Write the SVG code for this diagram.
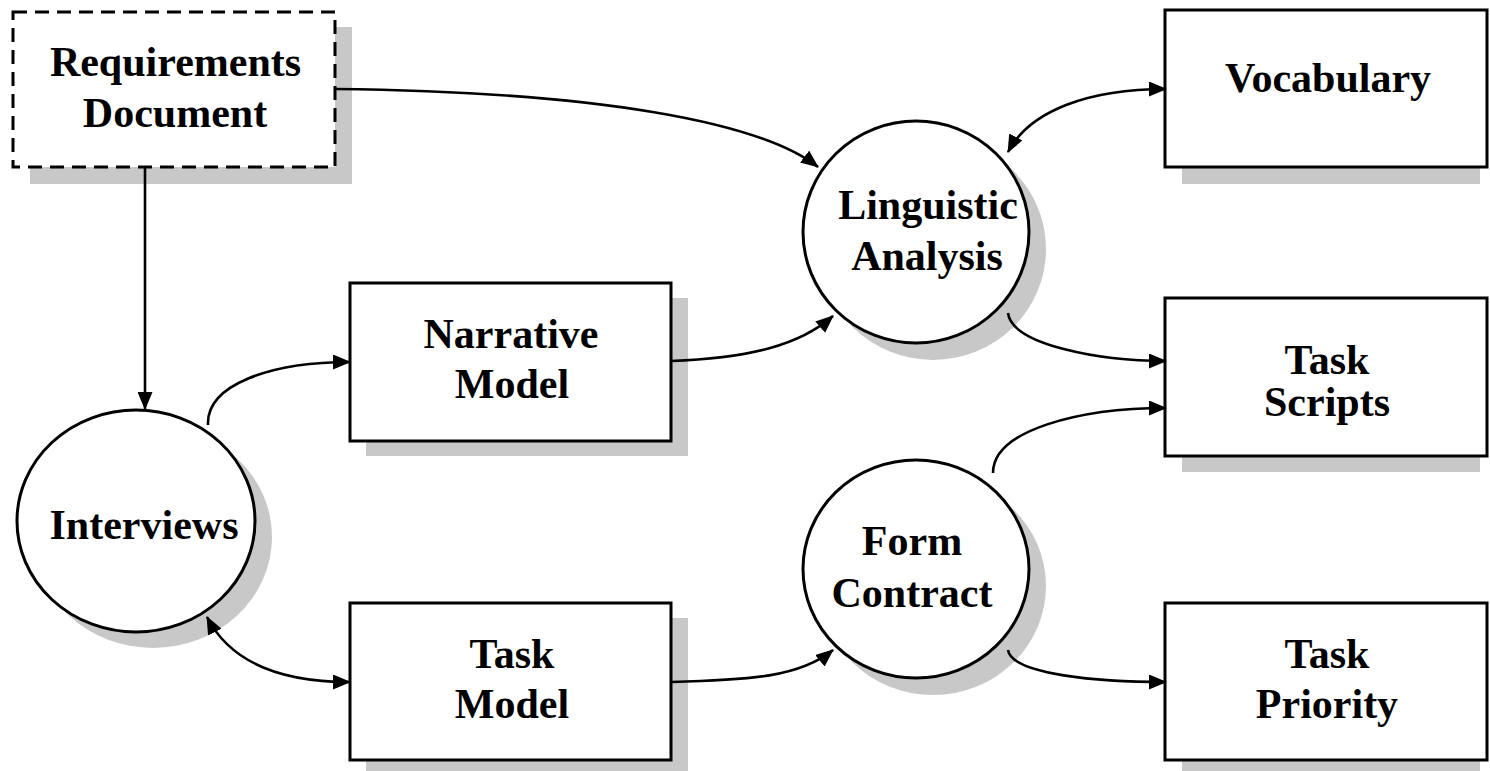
<svg xmlns="http://www.w3.org/2000/svg" width="1490" height="771" viewBox="0 0 1490 771">
  <defs>
    <style>
      .shadow { fill: #c8c8c8; stroke: none; }
      .box { fill: #ffffff; stroke: #000000; stroke-width: 3; }
      .dashed { stroke-dasharray: 14 8; }
      .label { font-family: "Liberation Serif", "Times New Roman", serif; font-weight: bold; font-size: 42px; fill: #000000; text-anchor: middle; }
      .edge { fill: none; stroke: #000000; stroke-width: 2.6; }
    </style>
    <marker id="arrow" markerUnits="userSpaceOnUse" markerWidth="18" markerHeight="15" refX="17" refY="7.5" orient="auto-start-reverse">
      <path d="M0,0 L18,7.5 L0,15 Z" fill="#000000"/>
    </marker>
  </defs>
  <rect width="1490" height="771" fill="#ffffff"/>

  <!-- Data stores and documents -->
  <g id="requirements-document">
    <rect class="shadow" x="30" y="27" width="322" height="157"/>
    <rect class="box dashed" x="13" y="12" width="322" height="155"/>
    <text class="label" x="175.5" y="76">Requirements</text>
    <text class="label" x="175" y="127">Document</text>
  </g>

  <g id="vocabulary">
    <rect class="shadow" x="1182" y="26" width="298" height="158"/>
    <rect class="box" x="1165" y="10" width="322" height="157"/>
    <text class="label" x="1328" y="92">Vocabulary</text>
  </g>

  <g id="narrative-model">
    <rect class="shadow" x="366" y="298" width="322" height="158"/>
    <rect class="box" x="350" y="283" width="321" height="158"/>
    <text class="label" x="511" y="348">Narrative</text>
    <text class="label" x="512" y="398">Model</text>
  </g>

  <g id="task-scripts">
    <rect class="shadow" x="1182" y="314" width="298" height="158"/>
    <rect class="box" x="1165" y="298" width="322" height="158"/>
    <text class="label" x="1327" y="374">Task</text>
    <text class="label" x="1327" y="416">Scripts</text>
  </g>

  <g id="task-model">
    <rect class="shadow" x="366" y="618" width="322" height="158"/>
    <rect class="box" x="350" y="603" width="321" height="157"/>
    <text class="label" x="512" y="668">Task</text>
    <text class="label" x="512" y="718">Model</text>
  </g>

  <g id="task-priority">
    <rect class="shadow" x="1182" y="618" width="298" height="158"/>
    <rect class="box" x="1165" y="603" width="322" height="157"/>
    <text class="label" x="1327" y="668">Task</text>
    <text class="label" x="1327" y="718">Priority</text>
  </g>

  <!-- Processes -->
  <g id="interviews">
    <ellipse class="shadow" cx="153" cy="537" rx="119" ry="111"/>
    <ellipse class="box" cx="136" cy="521" rx="119" ry="111"/>
    <text class="label" x="144" y="539">Interviews</text>
  </g>

  <g id="linguistic-analysis">
    <ellipse class="shadow" cx="933" cy="249" rx="113" ry="111"/>
    <ellipse class="box" cx="916" cy="232" rx="113" ry="111"/>
    <text class="label" x="928" y="219">Linguistic</text>
    <text class="label" x="927" y="270">Analysis</text>
  </g>

  <g id="form-contract">
    <ellipse class="shadow" cx="933" cy="586" rx="113" ry="109"/>
    <ellipse class="box" cx="916" cy="569" rx="113" ry="109"/>
    <text class="label" x="912" y="555">Form</text>
    <text class="label" x="912" y="607">Contract</text>
  </g>

  <!-- Flows -->
  <g id="connectors">
    <path class="edge" d="M335,89 C600,92 760,122 818,167" marker-end="url(#arrow)"/>
    <path class="edge" d="M1008,152 C1030,110 1090,89 1166,89" marker-start="url(#arrow)" marker-end="url(#arrow)"/>
    <path class="edge" d="M145,168 L145,409" marker-end="url(#arrow)"/>
    <path class="edge" d="M208,425 C206,385 270,362 350,362" marker-end="url(#arrow)"/>
    <path class="edge" d="M671,361 C750,358 800,345 833,316" marker-end="url(#arrow)"/>
    <path class="edge" d="M1008,313 C1012,345 1100,361 1166,361" marker-end="url(#arrow)"/>
    <path class="edge" d="M993,473 C993,430 1080,408 1166,408" marker-end="url(#arrow)"/>
    <path class="edge" d="M207,617 C230,662 280,682 350,682" marker-start="url(#arrow)" marker-end="url(#arrow)"/>
    <path class="edge" d="M671,682 C750,680 800,677 833,650" marker-end="url(#arrow)"/>
    <path class="edge" d="M1008,650 C1012,675 1100,682 1166,682" marker-end="url(#arrow)"/>
  </g>
</svg>
